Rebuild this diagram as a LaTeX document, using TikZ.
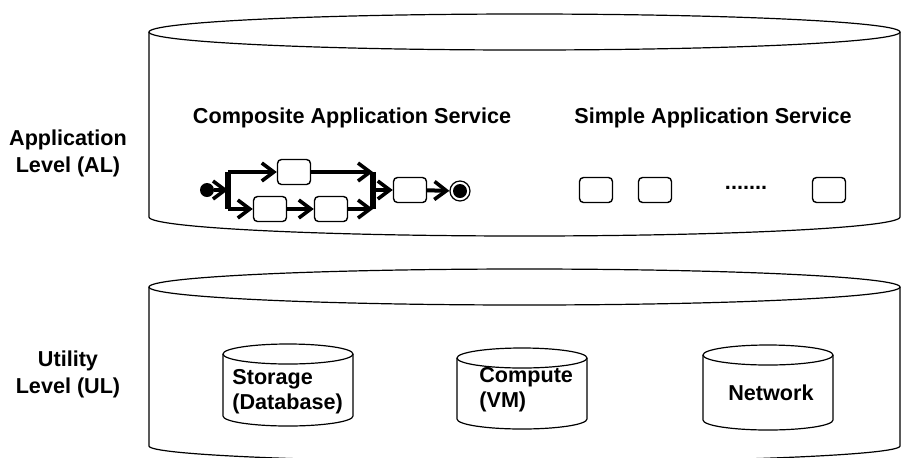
\documentclass[tikz,border=0pt]{standalone}
\usepackage{fontspec}
\setmainfont{Liberation Sans}
\usetikzlibrary{arrows.meta}

\tikzset{
  lbl/.style={font=\bfseries\fontsize{10.8}{13.5}\selectfont, align=center, inner sep=0pt},
  dbtxt/.style={font=\bfseries\fontsize{10.8}{12.5}\selectfont, align=left, inner sep=0pt},
  cyl/.style={line width=0.6pt},
  svc/.style={draw, rounded corners=2pt, line width=0.7pt, minimum width=16.5pt, minimum height=12.5pt, inner sep=0pt, fill=white},
  flow/.style={line width=2pt, -{Straight Barb[length=6pt,width=9pt,line width=1.8pt]}},
  bar/.style={line width=3pt},
}

\begin{document}
\begin{tikzpicture}[x=0.5pt,y=-0.5pt]
  \useasboundingbox (0,0) rectangle (901,457);
  \draw[cyl] (149,32) -- (149,217) arc[start angle=180,end angle=0,x radius=375.5,y radius=19] -- (900,32);
  \draw[cyl] (524.5,32) ellipse[x radius=375.5,y radius=18];
  \draw[cyl] (149,287) -- (149,446) arc[start angle=180,end angle=0,x radius=375.5,y radius=16] -- (900,287);
  \draw[cyl] (524.5,287) ellipse[x radius=375.5,y radius=18];
  \foreach \cx/\cy/\cb in {288/354/416, 522/358/419, 768/355/420} {
    \draw[cyl] (\cx-65,\cy) -- (\cx-65,\cb) arc[start angle=180,end angle=0,x radius=65,y radius=10] -- (\cx+65,\cy);
    \draw[cyl] (\cx,\cy) ellipse[x radius=65,y radius=10];
  }
  \node[lbl] (al) at (68,153) {Application\\Level (AL)};
  \node[lbl] (ul) at (68,374) {Utility\\Level (UL)};
  \node[lbl] (composite) at (352,118) {Composite Application Service};
  \node[lbl] (simple) at (713,118) {Simple Application Service};
  \node[dbtxt,anchor=west] (storage) at (232,392) {Storage\\(Database)};
  \node[dbtxt,anchor=west] (compute) at (479,390) {Compute\\(VM)};
  \node[dbtxt] (network) at (771,393) {Network};
  \node[svc] (s1) at (596,190) {};
  \node[svc] (s2) at (655,190) {};
  \node[lbl] (sdots) at (746,188) {.......};
  \node[svc] (s3) at (829,190) {};
  \node[circle,fill=black,minimum size=7pt,inner sep=0pt] (wstart) at (207,190) {};
  \coordinate (forktop) at (228,172);
  \coordinate (forkin) at (228,190);
  \coordinate (forkbot) at (228,209);
  \coordinate (jointop) at (373,172);
  \coordinate (joinout) at (373,190);
  \coordinate (joinbot) at (373,209);
  \draw[bar] (forktop) -- (forkbot);
  \draw[bar] (jointop) -- (joinbot);
  \node[svc] (t1) at (294,172) {};
  \node[svc] (b1) at (270,209) {};
  \node[svc] (b2) at (331,209) {};
  \node[svc] (m1) at (410,190) {};
  \node[circle,draw,line width=0.6pt,minimum size=10pt,inner sep=0pt,
    path picture={\fill (path picture bounding box.center) circle[radius=3.5pt];}] (wend) at (460,191) {};
  \draw[flow] (wstart) -- (forkin);
  \draw[flow] (forktop) -- (t1);
  \draw[flow] (t1) -- (jointop);
  \draw[flow] (forkbot) -- (b1);
  \draw[flow] (b1) -- (b2);
  \draw[flow] (b2) -- (joinbot);
  \draw[flow] (joinout) -- (m1);
  \draw[flow] (m1) -- (wend);
\end{tikzpicture}
\end{document}
